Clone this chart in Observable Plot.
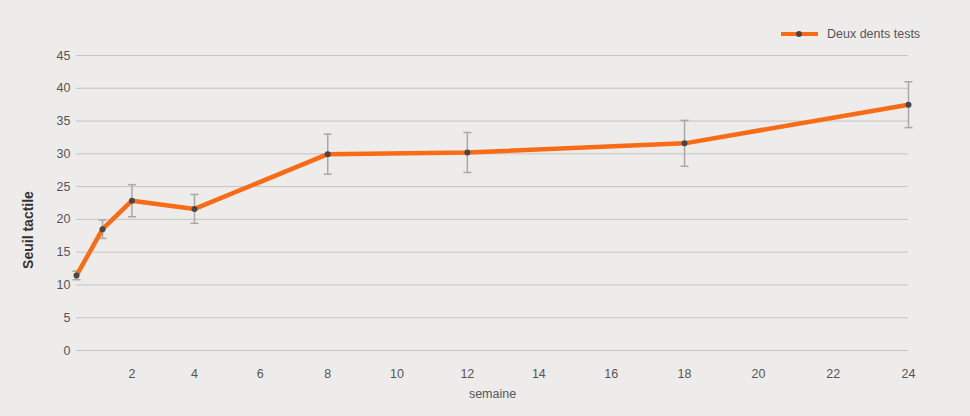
<!DOCTYPE html>
<html><head><meta charset="utf-8">
<script src="https://cdn.jsdelivr.net/npm/d3@7"></script>
<script src="https://cdn.jsdelivr.net/npm/@observablehq/plot@0.6"></script>
<style>
body{margin:0;background:#edeceb;}
#wrap{position:relative;width:970px;height:416px;background:#edeceb;font-family:"Liberation Sans",Arial,sans-serif;}
#legend{position:absolute;left:781px;top:27px;display:flex;align-items:center;font-size:12.5px;color:#555;}
#legend span{margin-left:9px;}
</style></head><body><div id="wrap"><div id="legend"><svg width="37" height="14"><line x1="0" x2="37" y1="7" y2="7" stroke="#f96b14" stroke-width="4"/><circle cx="18" cy="7" r="3" fill="#474747"/></svg><span>Deux dents tests</span></div></div>
<script>
const weeks = [0, 1, 2, 4, 8, 12, 18, 24];
const seuil = [11.45, 18.5, 22.85, 21.6, 29.95, 30.2, 31.6, 37.5];
const erreur = [0.65, 1.4, 2.45, 2.2, 3.05, 3.05, 3.5, 3.5];
const xTicks = [2, 4, 6, 8, 10, 12, 14, 16, 18, 20, 22, 24];
const yTicks = [0, 5, 10, 15, 20, 25, 30, 35, 40, 45];
const seriesName = "Deux dents tests";
const xLabel = "semaine";
const yLabel = "Seuil tactile";

const data = weeks.map((w, i) => ({semaine: w, seuil: seuil[i], lo: seuil[i] - erreur[i], hi: seuil[i] + erreur[i]}));
const cap = {draw(ctx, size) { const r = Math.sqrt(size / Math.PI); ctx.moveTo(-r, 0); ctx.lineTo(r, 0); }};
const errColor = "#a8a8a8";

const chart = Plot.plot({
  width: 970, height: 416,
  marginLeft: 76, marginRight: 62, marginTop: 55, marginBottom: 66,
  style: {background: "transparent", fontFamily: "Liberation Sans, Arial, sans-serif", fontSize: "12px", color: "#555"},
  x: {type: "pow", exponent: 1.09, domain: [0, 24]},
  y: {domain: [0, 45]},
  marks: [
    Plot.ruleY(yTicks, {stroke: "#c4c4c4", strokeWidth: 1}),
    Plot.axisY({ticks: yTicks, tickSize: 0, tickPadding: 6, label: null, fill: "#555", fontSize: 12.5}),
    Plot.axisX({ticks: xTicks, tickSize: 0, tickPadding: 19, label: null, fill: "#555", fontSize: 12.5}),
    Plot.text([xLabel], {text: d => d, frameAnchor: "bottom", dy: 47, fill: "#555", fontSize: 12.5}),
    Plot.text([yLabel], {text: d => d, frameAnchor: "left", textAnchor: "middle", rotate: -90, dx: -48, dy: 27, fontWeight: "bold", fontSize: 14, fill: "#333"}),
    Plot.ruleX(data, {x: "semaine", y1: "lo", y2: "hi", stroke: errColor, strokeWidth: 1.5}),
    Plot.dot(data, {x: "semaine", y: "lo", symbol: cap, r: 4, stroke: errColor, strokeWidth: 1.5}),
    Plot.dot(data, {x: "semaine", y: "hi", symbol: cap, r: 4, stroke: errColor, strokeWidth: 1.5}),
    Plot.line(data, {x: "semaine", y: "seuil", stroke: "#f96b14", strokeWidth: 4.5}),
    Plot.dot(data, {x: "semaine", y: "seuil", r: 3, fill: "#474747"})
  ]
});
document.getElementById("wrap").appendChild(chart);
chart.style.position = "absolute";
chart.style.left = "0";
chart.style.top = "0";
</script>
</body></html>
